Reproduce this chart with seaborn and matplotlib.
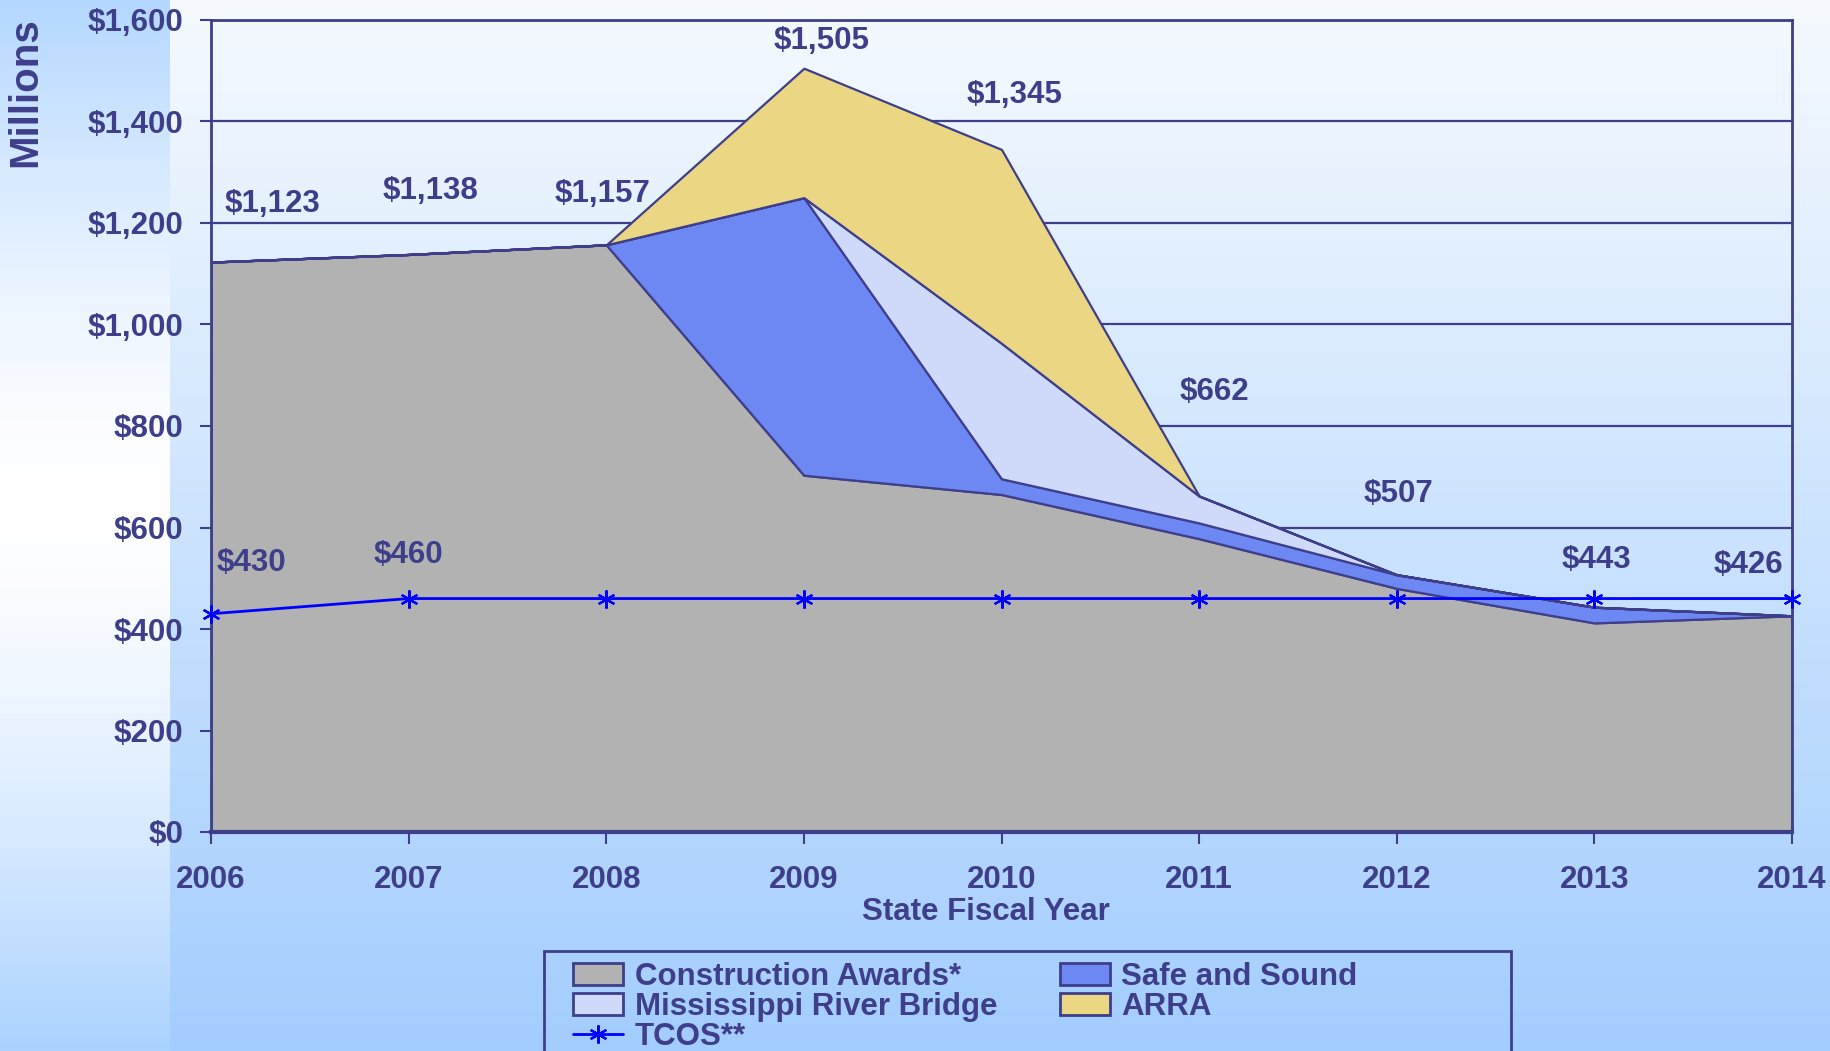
import matplotlib
matplotlib.use("Agg")
import matplotlib.pyplot as plt
from matplotlib.patches import Patch, Rectangle
from matplotlib.lines import Line2D
from matplotlib.ticker import MultipleLocator, FuncFormatter
import numpy as np
import pandas as pd
import seaborn as sns

# ---- data ($ millions) ----
years = [2006, 2007, 2008, 2009, 2010, 2011, 2012, 2013, 2014]
construction_awards = [1123, 1138, 1157, 703, 665, 578, 480, 412, 426]
safe_and_sound = [0, 0, 0, 547, 31, 31, 27, 31, 0]
mississippi_bridge = [0, 0, 0, 0, 267, 53, 0, 0, 0]
arra = [0, 0, 0, 255, 382, 0, 0, 0, 0]
tcos = [430, 460, 460, 460, 460, 460, 460, 460, 460]
layer_names = ['Construction Awards*', 'Safe and Sound',
               'Mississippi River Bridge', 'ARRA']
tcos_name = 'TCOS**'
tcos_labelled_years = [2006, 2007]

# label offsets in pixels (dx, dy) from the data point
total_label_offsets = [(61, 58), (22, 63), (-4, 51), (18, 27), (13, 54),
                       (15, 104), (2, 81), (2, 47), (-44, 51)]
tcos_label_offsets = [(40, 51), (0, 44)]

NAVY = '#3e3e8b'
TCOS_BLUE = '#0000ff'
layer_colors = ['#b2b2b2', '#6d87f3', '#cfdafa', '#ebd783']
FS = 22.5

df = pd.DataFrame({'year': years, 'Construction Awards*': construction_awards,
                   'Safe and Sound': safe_and_sound,
                   'Mississippi River Bridge': mississippi_bridge,
                   'ARRA': arra, 'TCOS**': tcos})
df['total'] = df[layer_names].sum(axis=1)

sns.set_theme(style='white')
plt.rcParams['font.family'] = ['Liberation Sans', 'DejaVu Sans']
plt.rcParams['font.weight'] = 'bold'

fig = plt.figure(figsize=(18.3, 10.51), dpi=100)

# background: white-to-blue gradient, plus a reversed strip on the left
W, H = 1830, 1051
t = np.linspace(0, 1, H)[:, None, None]
top_c = np.array([246, 250, 255]) / 255
bot_c = np.array([163, 205, 254]) / 255
img = np.repeat(top_c + (bot_c - top_c) * t, W, axis=1)
s = np.abs(t - 0.48) / 0.52
strip_c = np.array([170, 210, 255]) / 255
img[:, :170] = (1 + (strip_c - 1) * s ** 1.5)[:, :, :]
bg = fig.add_axes([0, 0, 1, 1], zorder=-10)
bg.imshow(img, aspect='auto', extent=[0, 1, 0, 1])
bg.axis('off')

ax = fig.add_axes([211 / W, 1 - 832 / H, (1792 - 211) / W, (832 - 20) / H])
ax.patch.set_alpha(0)

ax.stackplot(df['year'], *[df[n] for n in layer_names], colors=layer_colors,
             edgecolor=NAVY, linewidth=1.6, zorder=2)

sns.lineplot(data=df, x='year', y='TCOS**', ax=ax, color=TCOS_BLUE, lw=2,
             marker=(6, 2, 0), markersize=13, markeredgewidth=1.6,
             markeredgecolor=TCOS_BLUE, zorder=5, clip_on=False, legend=False)

ax.set_xlim(2006, 2014)
ax.set_ylim(0, 1600)
ax.set_xticks(years)
ax.yaxis.set_major_locator(MultipleLocator(200))
ax.yaxis.set_major_formatter(FuncFormatter(lambda v, _: f'${v:,.0f}'))
ax.set_axisbelow(True)
ax.yaxis.grid(True, color=NAVY, lw=1.6)
ax.xaxis.grid(False)

ax.tick_params(axis='x', bottom=True, direction='out', length=8.6, width=1.5,
               pad=15, colors=NAVY, labelsize=FS)
ax.tick_params(axis='y', left=True, direction='out', length=8, width=1.5,
               pad=12, colors=NAVY, labelsize=FS)
for lab in ax.get_xticklabels() + ax.get_yticklabels():
    lab.set_fontweight('bold')
for side, sp in ax.spines.items():
    sp.set_visible(True)
    sp.set_color(NAVY)
    sp.set_linewidth(2)
ax.spines['bottom'].set_linewidth(3)

ax.set_xlabel('State Fiscal Year', fontsize=FS, color=NAVY, fontweight='bold',
              va='center')
ax.xaxis.set_label_coords(0.49, -0.0985)
ax.set_ylabel('Millions', fontsize=29, color=NAVY, fontweight='bold')
ax.yaxis.set_label_coords(-0.1057, 0.911)

# total labels above each year
for (yr, tot), (dx, dy) in zip(df[['year', 'total']].values, total_label_offsets):
    ax.annotate(f'${tot:,.0f}', (yr, tot), xytext=(dx, dy),
                textcoords='offset pixels', ha='center', va='center',
                fontsize=FS, color=NAVY, fontweight='bold', zorder=6)

for yr, (dx, dy) in zip(tcos_labelled_years, tcos_label_offsets):
    v = df.loc[df['year'] == yr, 'TCOS**'].iloc[0]
    ax.annotate(f'${v:,.0f}', (yr, v), xytext=(dx, dy),
                textcoords='offset pixels', ha='center', va='center',
                fontsize=FS, color=NAVY, fontweight='bold', zorder=6)

# legend (frame drawn separately so it can be wider than the entries)
patches = [Patch(facecolor=c, edgecolor=NAVY, lw=2, label=n)
           for n, c in zip(layer_names, layer_colors)]
tcos_handle = Line2D([], [], color=TCOS_BLUE, lw=2, marker=(6, 2, 0),
                     markersize=13, markeredgewidth=1.6, label=tcos_name)
handles = [patches[0], patches[2], tcos_handle, patches[1], patches[3]]
leg = fig.legend(handles=handles, loc='upper left', ncol=2,
                 bbox_to_anchor=(573 / W, 1 - 962 / H),
                 bbox_transform=fig.transFigure, frameon=False,
                 borderpad=0, borderaxespad=0, handlelength=1.6,
                 handleheight=0.7, handletextpad=0.37, columnspacing=2.0,
                 labelspacing=0.0, prop={'size': FS, 'weight': 'bold'},
                 labelcolor=NAVY)
fig.add_artist(Rectangle((544 / W, -0.05), 967 / W, 0.05 + 1 - 951 / H,
                         transform=fig.transFigure, fill=False,
                         edgecolor=NAVY, lw=2))

fig.savefig('out.png', dpi=100)
plt.close(fig)
